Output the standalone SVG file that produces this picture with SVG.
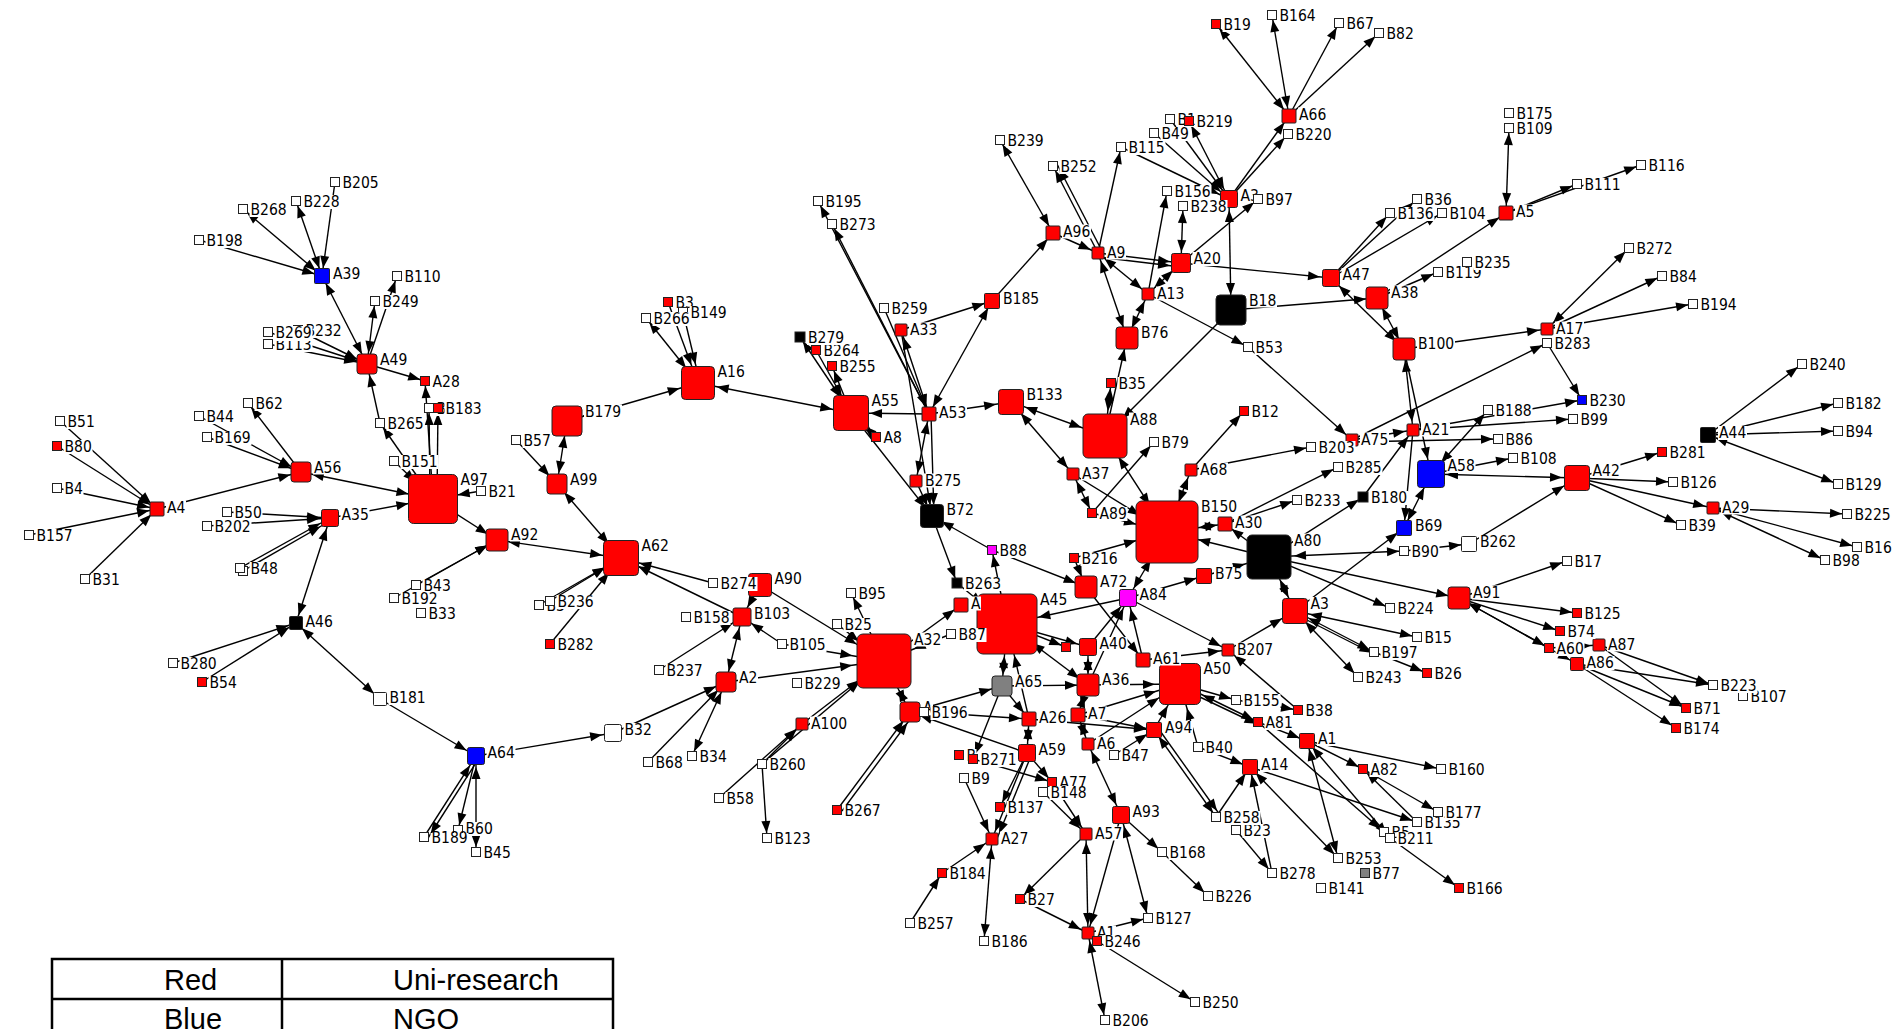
<svg xmlns="http://www.w3.org/2000/svg" width="1899" height="1029" viewBox="0 0 1899 1029">
<style>
.e path{fill:none;stroke:#000;stroke-width:1.4}
.R,.W,.K,.U,.M,.G{stroke:#222;stroke-width:1}
.R{fill:#f00}.W{fill:#fff}.K{fill:#000}.U{fill:#00f}.M{fill:#f0f}.G{fill:#808080}
.lb{fill:#fff}
text.t{font-family:'DejaVu Sans Condensed','DejaVu Sans',sans-serif;font-stretch:condensed;font-size:15.5px;fill:#000}
.lg{font-family:'Liberation Sans',Arial,sans-serif;font-size:29px;fill:#000}
.ta{marker-end:url(#ma)}.tb{marker-end:url(#mb)}.tc{marker-end:url(#mc)}.td{marker-end:url(#md)}.te{marker-end:url(#me)}.tf{marker-end:url(#mf)}.tg{marker-end:url(#mg)}
.sa{marker-start:url(#ma)}.sb{marker-start:url(#mb)}.sc{marker-start:url(#mc)}.sd{marker-start:url(#md)}.se{marker-start:url(#me)}.sf{marker-start:url(#mf)}.sg{marker-start:url(#mg)}
</style>
<defs>
<path id="ah" d="M0,0L-12,-4.5L-12,4.5Z"/>
<marker id="ma" markerUnits="userSpaceOnUse" refX="5" refY="0" orient="auto-start-reverse" overflow="visible"><use href="#ah"/></marker>
<marker id="mb" markerUnits="userSpaceOnUse" refX="8" refY="0" orient="auto-start-reverse" overflow="visible"><use href="#ah"/></marker>
<marker id="mc" markerUnits="userSpaceOnUse" refX="11" refY="0" orient="auto-start-reverse" overflow="visible"><use href="#ah"/></marker>
<marker id="md" markerUnits="userSpaceOnUse" refX="15" refY="0" orient="auto-start-reverse" overflow="visible"><use href="#ah"/></marker>
<marker id="me" markerUnits="userSpaceOnUse" refX="19" refY="0" orient="auto-start-reverse" overflow="visible"><use href="#ah"/></marker>
<marker id="mf" markerUnits="userSpaceOnUse" refX="25" refY="0" orient="auto-start-reverse" overflow="visible"><use href="#ah"/></marker>
<marker id="mg" markerUnits="userSpaceOnUse" refX="32" refY="0" orient="auto-start-reverse" overflow="visible"><use href="#ah"/></marker>
</defs>
<rect width="1899" height="1029" fill="#fff"/>

<g id="connectors" class="e">
<path d="M199 240L322 276" class="tb"/>
<path d="M322 276L243 209" class="ta sb"/>
<path d="M322 276L296 201" class="ta sb"/>
<path d="M335 182L322 276" class="tb"/>
<path d="M322 276L367 364" class="tc sb"/>
<path d="M367 364L397 276" class="ta"/>
<path d="M367 364L375 301" class="ta sc"/>
<path d="M268 332L367 364" class="tc"/>
<path d="M298 330L367 364" class="tc"/>
<path d="M268 344L367 364" class="tc"/>
<path d="M367 364L425 381" class="ta"/>
<path d="M380 423L367 364" class="tc"/>
<path d="M433 499L380 423" class="ta"/>
<path d="M433 499L425 381" class="ta"/>
<path d="M437 499L438 408" class="ta"/>
<path d="M430 499L429 408" class="ta"/>
<path d="M394 461L433 499" class="tf"/>
<path d="M301 472L433 499" class="tf sc"/>
<path d="M330 518L433 499" class="tf"/>
<path d="M481 491L433 499" class="tf"/>
<path d="M433 499L497 540" class="tc"/>
<path d="M416 585L497 540" class="tc"/>
<path d="M394 598L497 540" class="tc"/>
<path d="M516 440L557 484" class="tc"/>
<path d="M567 421L557 484" class="tc sd"/>
<path d="M567 421L698 383" class="te sd"/>
<path d="M557 484L621 558" class="te sc"/>
<path d="M497 540L621 558" class="te sc"/>
<path d="M550 601L621 558" class="te"/>
<path d="M539 605L621 558" class="te"/>
<path d="M550 644L621 558" class="te"/>
<path d="M713 583L621 558" class="te"/>
<path d="M742 617L621 558" class="te"/>
<path d="M760 585L742 617" class="tc"/>
<path d="M659 670L742 617" class="tc"/>
<path d="M782 644L742 617" class="tc"/>
<path d="M742 617L726 682" class="tc sc"/>
<path d="M760 585L884 661" class="tg"/>
<path d="M837 624L884 661" class="tg"/>
<path d="M884 661L851 593" class="ta"/>
<path d="M782 644L884 661" class="tg"/>
<path d="M726 682L884 661" class="tg"/>
<path d="M802 724L884 661" class="tg"/>
<path d="M762 764L884 661" class="tg"/>
<path d="M762 764L802 724" class="tb"/>
<path d="M719 798L802 724" class="tb"/>
<path d="M762 764L767 838" class="ta"/>
<path d="M476 756L613 733" class="tc"/>
<path d="M613 733L726 682" class="tc"/>
<path d="M648 762L726 682" class="tc"/>
<path d="M726 682L692 756" class="ta sc"/>
<path d="M380 699L476 756" class="tc"/>
<path d="M296 623L380 699" class="tb sb"/>
<path d="M330 518L296 623" class="tb sc"/>
<path d="M173 663L296 623" class="tb"/>
<path d="M202 682L296 623" class="tb"/>
<path d="M227 512L330 518" class="tc"/>
<path d="M207 526L330 518" class="tc"/>
<path d="M240 568L330 518" class="tc"/>
<path d="M243 571L330 521" class="tc"/>
<path d="M424 837L476 756" class="tc"/>
<path d="M479 758L428 838" class="ta"/>
<path d="M476 756L458 830" class="ta"/>
<path d="M476 756L476 852" class="ta sc"/>
<path d="M57 446L157 509" class="tb"/>
<path d="M60 421L157 509" class="tb"/>
<path d="M57 488L157 509" class="tb"/>
<path d="M29 535L157 509" class="tb"/>
<path d="M85 579L157 509" class="tb"/>
<path d="M157 509L301 472" class="tc"/>
<path d="M199 416L301 472" class="tc"/>
<path d="M207 437L301 472" class="tc"/>
<path d="M301 472L248 403" class="ta"/>
<path d="M698 383L646 318" class="ta se"/>
<path d="M668 302L698 383" class="te"/>
<path d="M683 312L700 383" class="te"/>
<path d="M698 383L851 413" class="te se"/>
<path d="M800 337L851 413" class="te sa"/>
<path d="M816 350L851 413" class="te"/>
<path d="M851 413L832 366" class="ta"/>
<path d="M929 414L851 413" class="te"/>
<path d="M851 413L876 437" class="ta se"/>
<path d="M851 413L932 516" class="tc"/>
<path d="M884 308L929 414" class="tb"/>
<path d="M901 330L929 414" class="tb sb"/>
<path d="M929 414L818 201" class="ta"/>
<path d="M929 414L832 224" class="ta"/>
<path d="M992 301L929 414" class="tb sb"/>
<path d="M901 330L992 301" class="tb"/>
<path d="M929 414L1011 402" class="td"/>
<path d="M929 414L916 481" class="tb sb"/>
<path d="M916 481L932 516" class="tc"/>
<path d="M931 414L934 516" class="tc"/>
<path d="M901 330L932 516" class="tc"/>
<path d="M992 550L932 516" class="tc"/>
<path d="M932 516L957 583" class="ta"/>
<path d="M992 550L1086 587" class="tc"/>
<path d="M1007 624L992 550" class="ta"/>
<path d="M1011 402L1105 436" class="tf sd"/>
<path d="M1011 402L1073 474" class="tb sd"/>
<path d="M1073 474L1092 513" class="ta sb"/>
<path d="M1073 474L1167 532" class="tg"/>
<path d="M1092 513L1154 442" class="ta"/>
<path d="M1092 513L1167 532" class="tg"/>
<path d="M1111 383L1105 436" class="tf sa"/>
<path d="M1105 436L1127 338" class="tc"/>
<path d="M1167 532L1105 436" class="tf sg"/>
<path d="M1191 470L1167 532" class="tg sb"/>
<path d="M1191 470L1244 411" class="ta"/>
<path d="M1191 470L1311 447" class="ta"/>
<path d="M1225 524L1167 532" class="tg sb"/>
<path d="M1269 557L1167 532" class="tg"/>
<path d="M1074 558L1167 532" class="tg"/>
<path d="M1074 558L1086 587" class="tc"/>
<path d="M1128 598L1167 532" class="tg sc"/>
<path d="M1128 598L1007 624" class="tg"/>
<path d="M1128 598L1204 576" class="tb"/>
<path d="M1128 598L1228 650" class="tb"/>
<path d="M1086 587L1143 660" class="tb"/>
<path d="M1088 647L1128 598" class="tc"/>
<path d="M1088 685L1128 598" class="tc"/>
<path d="M1143 660L1128 598" class="tc"/>
<path d="M1204 576L1269 557" class="tf"/>
<path d="M1225 524L1338 467" class="ta"/>
<path d="M1225 524L1297 500" class="ta"/>
<path d="M1269 557L1225 524" class="tb"/>
<path d="M1269 557L1295 611" class="td sf"/>
<path d="M1269 557L1390 608" class="ta"/>
<path d="M1269 557L1459 598" class="tc"/>
<path d="M1269 557L1404 551" class="ta sf"/>
<path d="M1269 557L1363 497" class="ta"/>
<path d="M1295 611L1404 528" class="tb"/>
<path d="M1404 551L1469 544" class="tb"/>
<path d="M1469 544L1577 478" class="td"/>
<path d="M1228 650L1295 611" class="td"/>
<path d="M1295 611L1417 637" class="ta sd"/>
<path d="M1295 611L1374 652" class="ta sd"/>
<path d="M1297 615L1376 655" class="ta"/>
<path d="M1295 611L1358 677" class="ta sd"/>
<path d="M1374 652L1427 673" class="ta"/>
<path d="M1459 598L1567 561" class="ta"/>
<path d="M1459 598L1577 613" class="ta"/>
<path d="M1459 598L1560 631" class="ta"/>
<path d="M1459 598L1549 648" class="ta sc"/>
<path d="M1459 598L1577 664" class="tb sc"/>
<path d="M1549 648L1599 645" class="tb"/>
<path d="M1577 664L1713 685" class="ta"/>
<path d="M1599 645L1713 685" class="ta"/>
<path d="M1577 664L1686 708" class="ta"/>
<path d="M1599 645L1686 708" class="ta"/>
<path d="M1577 664L1676 728" class="ta"/>
<path d="M1404 349L1547 329" class="tb"/>
<path d="M1413 430L1404 349" class="tc sb"/>
<path d="M1404 349L1431 474" class="td"/>
<path d="M1363 497L1413 430" class="tb"/>
<path d="M1413 430L1404 528" class="tb"/>
<path d="M1413 430L1582 400" class="ta"/>
<path d="M1413 430L1573 419" class="ta"/>
<path d="M1352 440L1413 430" class="tb"/>
<path d="M1352 442L1498 439" class="ta"/>
<path d="M1352 440L1547 343" class="ta"/>
<path d="M1547 343L1582 400" class="ta"/>
<path d="M1431 474L1488 410" class="ta sd"/>
<path d="M1431 474L1513 458" class="ta"/>
<path d="M1431 474L1577 478" class="td sd"/>
<path d="M1431 474L1404 528" class="tb sd"/>
<path d="M1248 347L1352 440" class="tb"/>
<path d="M1148 294L1248 347" class="ta"/>
<path d="M1577 478L1662 452" class="ta"/>
<path d="M1577 478L1673 482" class="ta"/>
<path d="M1577 478L1713 508" class="tb"/>
<path d="M1577 478L1681 525" class="ta"/>
<path d="M1708 435L1802 364" class="ta"/>
<path d="M1708 435L1838 403" class="ta"/>
<path d="M1708 435L1838 431" class="ta"/>
<path d="M1708 435L1838 484" class="ta sb"/>
<path d="M1713 508L1847 514" class="ta"/>
<path d="M1713 508L1857 547" class="ta"/>
<path d="M1713 508L1825 560" class="ta sb"/>
<path d="M1547 329L1629 248" class="ta sb"/>
<path d="M1547 329L1662 276" class="ta"/>
<path d="M1547 329L1693 304" class="ta"/>
<path d="M1506 213L1509 128" class="ta sb"/>
<path d="M1506 213L1577 184" class="ta"/>
<path d="M1506 213L1641 165" class="ta"/>
<path d="M1377 298L1506 213" class="tb"/>
<path d="M1377 298L1438 272" class="ta"/>
<path d="M1331 278L1390 213" class="ta"/>
<path d="M1331 278L1417 199" class="ta"/>
<path d="M1331 278L1442 213" class="ta"/>
<path d="M1331 278L1404 349" class="tc sc"/>
<path d="M1377 298L1404 349" class="tc sc"/>
<path d="M1231 310L1377 298" class="tc"/>
<path d="M1181 263L1331 278" class="tc"/>
<path d="M1000 140L1053 233" class="tb sa"/>
<path d="M1098 253L1053 166" class="ta"/>
<path d="M1102 251L1057 164" class="ta"/>
<path d="M992 301L1053 233" class="tb"/>
<path d="M1053 233L1098 253" class="tb"/>
<path d="M1098 253L1121 147" class="ta"/>
<path d="M1098 253L1181 263" class="tc"/>
<path d="M1098 257L1181 267" class="tc"/>
<path d="M1098 253L1148 294" class="tb sb"/>
<path d="M1098 253L1127 338" class="tc sb"/>
<path d="M1148 294L1127 338" class="tc sb"/>
<path d="M1148 294L1167 191" class="ta"/>
<path d="M1181 263L1148 294" class="tb sc"/>
<path d="M1181 263L1183 206" class="ta sc"/>
<path d="M1181 263L1258 199" class="ta"/>
<path d="M1121 147L1229 199" class="tc"/>
<path d="M1154 133L1229 199" class="tc"/>
<path d="M1170 119L1229 199" class="tc"/>
<path d="M1229 199L1189 121" class="ta sc"/>
<path d="M1229 199L1289 116" class="tb"/>
<path d="M1229 199L1288 134" class="ta"/>
<path d="M1216 24L1289 116" class="tb sa"/>
<path d="M1272 15L1289 116" class="tb sa"/>
<path d="M1289 116L1339 23" class="ta"/>
<path d="M1289 116L1379 33" class="ta"/>
<path d="M1229 199L1231 310" class="td sc"/>
<path d="M1231 310L1105 436" class="tf"/>
<path d="M1007 624L1002 686" class="tc sg"/>
<path d="M1007 624L1088 685" class="tc sg"/>
<path d="M1007 624L1088 647" class="tc"/>
<path d="M957 583L1007 624" class="tg"/>
<path d="M951 634L884 661" class="tg"/>
<path d="M884 661L961 605" class="tb"/>
<path d="M1029 719L1007 624" class="tg"/>
<path d="M910 712L1002 686" class="tc"/>
<path d="M924 712L1029 719" class="tb"/>
<path d="M1027 753L910 712" class="tc"/>
<path d="M837 810L910 712" class="tc"/>
<path d="M842 811L914 714" class="tc"/>
<path d="M910 712L884 661" class="tg sc"/>
<path d="M1002 686L1088 685" class="tc"/>
<path d="M1002 686L973 759" class="ta"/>
<path d="M1002 686L1029 719" class="tb"/>
<path d="M1088 685L1180 684" class="tf"/>
<path d="M1088 647L1088 685" class="tc sc"/>
<path d="M1088 685L1078 715" class="tb sc"/>
<path d="M1078 715L1180 684" class="tf"/>
<path d="M1078 715L1154 730" class="tb"/>
<path d="M1088 744L1180 684" class="tf"/>
<path d="M1029 719L1154 730" class="tb"/>
<path d="M1154 730L1180 684" class="tf"/>
<path d="M1198 747L1180 684" class="tf"/>
<path d="M1180 684L1258 722" class="ta sf"/>
<path d="M1183 689L1261 726" class="ta"/>
<path d="M1180 684L1236 700" class="ta"/>
<path d="M1236 700L1298 710" class="ta"/>
<path d="M1258 722L1307 741" class="tb"/>
<path d="M1307 741L1363 769" class="ta"/>
<path d="M1307 741L1441 769" class="ta"/>
<path d="M1363 769L1438 812" class="ta sa"/>
<path d="M1417 822L1363 769" class="ta"/>
<path d="M1307 741L1390 838" class="ta sb"/>
<path d="M1307 741L1338 858" class="ta sb"/>
<path d="M1258 722L1384 832" class="ta"/>
<path d="M1390 838L1459 888" class="ta"/>
<path d="M1250 767L1338 858" class="ta sb"/>
<path d="M1272 873L1250 767" class="tb"/>
<path d="M1236 830L1272 873" class="ta"/>
<path d="M1216 817L1250 767" class="tb"/>
<path d="M1250 767L1417 822" class="ta"/>
<path d="M1198 747L1250 767" class="tb"/>
<path d="M1154 730L1216 817" class="ta sb"/>
<path d="M1158 728L1220 815" class="ta"/>
<path d="M1114 755L1154 730" class="tb"/>
<path d="M1088 744L1121 815" class="tc sb"/>
<path d="M1121 815L1162 852" class="ta"/>
<path d="M1121 815L1148 918" class="ta sc"/>
<path d="M1162 852L1208 896" class="ta"/>
<path d="M1043 792L1086 834" class="tb"/>
<path d="M1052 782L1086 834" class="tb"/>
<path d="M1086 834L1088 933" class="tb sb"/>
<path d="M1086 834L1020 899" class="ta"/>
<path d="M1121 815L1088 933" class="tb"/>
<path d="M1020 899L1088 933" class="tb"/>
<path d="M1088 933L1148 918" class="ta"/>
<path d="M1088 933L1105 1020" class="ta sb"/>
<path d="M1097 941L1195 1002" class="ta"/>
<path d="M992 839L984 941" class="ta sb"/>
<path d="M942 873L992 839" class="tb"/>
<path d="M910 923L942 873" class="ta"/>
<path d="M964 778L992 839" class="tb"/>
<path d="M1027 753L992 839" class="tb"/>
<path d="M1031 756L996 841" class="tb"/>
<path d="M1027 753L1000 807" class="ta"/>
<path d="M1027 753L1029 719" class="tb sc"/>
<path d="M1027 753L1052 782" class="ta"/>
<path d="M973 759L1052 782" class="ta"/>
<path d="M1088 744L1078 715" class="tb sb"/>
<path d="M1143 660L1228 650" class="tb"/>
<path d="M1298 710L1228 650" class="tb"/>
<path d="M1007 624L1066 647" class="ta"/>
</g>

<g id="nodes">
<g id="B150"><rect class="R" x="1136" y="501" width="62" height="62" rx="6"/><rect class="lb" x="1200" y="499.5" width="38" height="14"/><text class="t" x="1201" y="511.5">B150</text></g>
<g id="A45"><rect class="R" x="977" y="594" width="60" height="60" rx="6"/><rect class="lb" x="1039" y="592.5" width="29" height="14"/><text class="t" x="1040" y="604.5">A45</text></g>
<g id="A32"><rect class="R" x="857" y="634" width="54" height="54" rx="6"/><rect class="lb" x="913" y="632.5" width="29" height="14"/><text class="t" x="914" y="644.5">A32</text></g>
<g id="A97"><rect class="R" x="408.5" y="474.5" width="49" height="49" rx="5"/><rect class="lb" x="459.5" y="473" width="29" height="14"/><text class="t" x="460.5" y="485">A97</text></g>
<g id="A88"><rect class="R" x="1083" y="414" width="44" height="44" rx="5"/><rect class="lb" x="1129" y="412.5" width="29" height="14"/><text class="t" x="1130" y="424.5">A88</text></g>
<g id="A80"><rect class="K" x="1247" y="535" width="44" height="44" rx="5"/><rect class="lb" x="1293" y="533.5" width="29" height="14"/><text class="t" x="1294" y="545.5">A80</text></g>
<g id="A50"><rect class="R" x="1159.5" y="663.5" width="41" height="41" rx="5"/><rect class="lb" x="1202.5" y="662" width="29" height="14"/><text class="t" x="1203.5" y="674">A50</text></g>
<g id="A62"><rect class="R" x="603.5" y="540.5" width="35" height="35" rx="4"/><rect class="lb" x="640.5" y="539" width="29" height="14"/><text class="t" x="641.5" y="551">A62</text></g>
<g id="A55"><rect class="R" x="833.5" y="395.5" width="35" height="35" rx="4"/><rect class="lb" x="870.5" y="394" width="29" height="14"/><text class="t" x="871.5" y="406">A55</text></g>
<g id="A16"><rect class="R" x="681.5" y="366.5" width="33" height="33" rx="4"/><rect class="lb" x="716.5" y="365" width="29" height="14"/><text class="t" x="717.5" y="377">A16</text></g>
<g id="B179"><rect class="R" x="552" y="406" width="30" height="30" rx="4"/><rect class="lb" x="584" y="404.5" width="38" height="14"/><text class="t" x="585" y="416.5">B179</text></g>
<g id="B18"><rect class="K" x="1216" y="295" width="30" height="30" rx="4"/><rect class="lb" x="1248" y="293.5" width="29" height="14"/><text class="t" x="1249" y="305.5">B18</text></g>
<g id="A58"><rect class="U" x="1417.5" y="460.5" width="27" height="27" rx="3"/><rect class="lb" x="1446.5" y="459" width="29" height="14"/><text class="t" x="1447.5" y="471">A58</text></g>
<g id="A3"><rect class="R" x="1282.5" y="598.5" width="25" height="25" rx="3"/><rect class="lb" x="1309.5" y="597" width="20" height="14"/><text class="t" x="1310.5" y="609">A3</text></g>
<g id="A42"><rect class="R" x="1564.5" y="465.5" width="25" height="25" rx="3"/><rect class="lb" x="1591.5" y="464" width="29" height="14"/><text class="t" x="1592.5" y="476">A42</text></g>
<g id="B133"><rect class="R" x="998.5" y="389.5" width="25" height="25" rx="3"/><rect class="lb" x="1025.5" y="388" width="38" height="14"/><text class="t" x="1026.5" y="400">B133</text></g>
<g id="A90"><rect class="R" x="748.5" y="573.5" width="23" height="23" rx="3"/><rect class="lb" x="773.5" y="572" width="29" height="14"/><text class="t" x="774.5" y="584">A90</text></g>
<g id="B72"><rect class="K" x="920.5" y="504.5" width="23" height="23" rx="3"/><rect class="lb" x="945.5" y="503" width="29" height="14"/><text class="t" x="946.5" y="515">B72</text></g>
<g id="A92"><rect class="R" x="486" y="529" width="22" height="22" rx="3"/><rect class="lb" x="510" y="527.5" width="29" height="14"/><text class="t" x="511" y="539.5">A92</text></g>
<g id="A72"><rect class="R" x="1075" y="576" width="22" height="22" rx="3"/><rect class="lb" x="1099" y="574.5" width="29" height="14"/><text class="t" x="1100" y="586.5">A72</text></g>
<g id="A36"><rect class="R" x="1077" y="674" width="22" height="22" rx="3"/><rect class="lb" x="1101" y="672.5" width="29" height="14"/><text class="t" x="1102" y="684.5">A36</text></g>
<g id="A91"><rect class="R" x="1448" y="587" width="22" height="22" rx="3"/><rect class="lb" x="1472" y="585.5" width="29" height="14"/><text class="t" x="1473" y="597.5">A91</text></g>
<g id="B76"><rect class="R" x="1116" y="327" width="22" height="22" rx="3"/><rect class="lb" x="1140" y="325.5" width="29" height="14"/><text class="t" x="1141" y="337.5">B76</text></g>
<g id="A38"><rect class="R" x="1366" y="287" width="22" height="22" rx="3"/><rect class="lb" x="1390" y="285.5" width="29" height="14"/><text class="t" x="1391" y="297.5">A38</text></g>
<g id="B100"><rect class="R" x="1393" y="338" width="22" height="22" rx="3"/><rect class="lb" x="1417" y="336.5" width="38" height="14"/><text class="t" x="1418" y="348.5">B100</text></g>
<g id="A49"><rect class="R" x="357" y="354" width="20" height="20" rx="3"/><rect class="lb" x="379" y="352.5" width="29" height="14"/><text class="t" x="380" y="364.5">A49</text></g>
<g id="A56"><rect class="R" x="291" y="462" width="20" height="20" rx="3"/><rect class="lb" x="313" y="460.5" width="29" height="14"/><text class="t" x="314" y="472.5">A56</text></g>
<g id="A99"><rect class="R" x="547" y="474" width="20" height="20" rx="3"/><rect class="lb" x="569" y="472.5" width="29" height="14"/><text class="t" x="570" y="484.5">A99</text></g>
<g id="A2"><rect class="R" x="716" y="672" width="20" height="20" rx="3"/><rect class="lb" x="738" y="670.5" width="20" height="14"/><text class="t" x="739" y="682.5">A2</text></g>
<g id="A-x1"><rect class="R" x="900" y="702" width="20" height="20" rx="3"/><rect class="lb" x="922" y="700.5" width="11" height="14"/><text class="t" x="923" y="712.5">A</text></g>
<g id="A65"><rect class="G" x="992" y="676" width="20" height="20" rx="3"/><rect class="lb" x="1014" y="674.5" width="29" height="14"/><text class="t" x="1015" y="686.5">A65</text></g>
<g id="A20"><rect class="R" x="1171.5" y="253.5" width="19" height="19" rx="2"/><rect class="lb" x="1192.5" y="252" width="29" height="14"/><text class="t" x="1193.5" y="264">A20</text></g>
<g id="B103"><rect class="R" x="733" y="608" width="18" height="18" rx="2"/><rect class="lb" x="753" y="606.5" width="38" height="14"/><text class="t" x="754" y="618.5">B103</text></g>
<g id="A35"><rect class="R" x="321.5" y="509.5" width="17" height="17" rx="2"/><rect class="lb" x="340.5" y="508" width="29" height="14"/><text class="t" x="341.5" y="520">A35</text></g>
<g id="A64"><rect class="U" x="467.5" y="747.5" width="17" height="17" rx="2"/><rect class="lb" x="486.5" y="746" width="29" height="14"/><text class="t" x="487.5" y="758">A64</text></g>
<g id="B32"><rect class="W" x="604.5" y="724.5" width="17" height="17" rx="2"/><rect class="lb" x="623.5" y="723" width="29" height="14"/><text class="t" x="624.5" y="735">B32</text></g>
<g id="A3-x"><rect class="R" x="1220.5" y="190.5" width="17" height="17" rx="2"/><rect class="lb" x="1239.5" y="189" width="20" height="14"/><text class="t" x="1240.5" y="201">A3</text></g>
<g id="A47"><rect class="R" x="1322.5" y="269.5" width="17" height="17" rx="2"/><rect class="lb" x="1341.5" y="268" width="29" height="14"/><text class="t" x="1342.5" y="280">A47</text></g>
<g id="A84"><rect class="M" x="1119.5" y="589.5" width="17" height="17" rx="2"/><rect class="lb" x="1138.5" y="588" width="29" height="14"/><text class="t" x="1139.5" y="600">A84</text></g>
<g id="A40"><rect class="R" x="1079.5" y="638.5" width="17" height="17" rx="2"/><rect class="lb" x="1098.5" y="637" width="29" height="14"/><text class="t" x="1099.5" y="649">A40</text></g>
<g id="A59"><rect class="R" x="1018.5" y="744.5" width="17" height="17" rx="2"/><rect class="lb" x="1037.5" y="743" width="29" height="14"/><text class="t" x="1038.5" y="755">A59</text></g>
<g id="A93"><rect class="R" x="1112.5" y="806.5" width="17" height="17" rx="2"/><rect class="lb" x="1131.5" y="805" width="29" height="14"/><text class="t" x="1132.5" y="817">A93</text></g>
<g id="A39"><rect class="U" x="314.5" y="268.5" width="15" height="15" rx="1"/><rect class="lb" x="332" y="267" width="29" height="14"/><text class="t" x="333" y="279">A39</text></g>
<g id="B185"><rect class="R" x="984.5" y="293.5" width="15" height="15" rx="1"/><rect class="lb" x="1002" y="292" width="38" height="14"/><text class="t" x="1003" y="304">B185</text></g>
<g id="B69"><rect class="U" x="1396.5" y="520.5" width="15" height="15" rx="1"/><rect class="lb" x="1414" y="519" width="29" height="14"/><text class="t" x="1415" y="531">B69</text></g>
<g id="B262"><rect class="W" x="1461.5" y="536.5" width="15" height="15" rx="1"/><rect class="lb" x="1479" y="535" width="38" height="14"/><text class="t" x="1480" y="547">B262</text></g>
<g id="A44"><rect class="K" x="1700.5" y="427.5" width="15" height="15" rx="1"/><rect class="lb" x="1718" y="426" width="29" height="14"/><text class="t" x="1719" y="438">A44</text></g>
<g id="B75"><rect class="R" x="1196.5" y="568.5" width="15" height="15" rx="1"/><rect class="lb" x="1214" y="567" width="29" height="14"/><text class="t" x="1215" y="579">B75</text></g>
<g id="A94"><rect class="R" x="1146.5" y="722.5" width="15" height="15" rx="1"/><rect class="lb" x="1164" y="721" width="29" height="14"/><text class="t" x="1165" y="733">A94</text></g>
<g id="A1"><rect class="R" x="1299.5" y="733.5" width="15" height="15" rx="1"/><rect class="lb" x="1317" y="732" width="20" height="14"/><text class="t" x="1318" y="744">A1</text></g>
<g id="A14"><rect class="R" x="1242.5" y="759.5" width="15" height="15" rx="1"/><rect class="lb" x="1260" y="758" width="29" height="14"/><text class="t" x="1261" y="770">A14</text></g>
<g id="A4"><rect class="R" x="150" y="502" width="14" height="14" rx="1"/><rect class="lb" x="166" y="500.5" width="20" height="14"/><text class="t" x="167" y="512.5">A4</text></g>
<g id="A53"><rect class="R" x="922" y="407" width="14" height="14" rx="1"/><rect class="lb" x="938" y="405.5" width="29" height="14"/><text class="t" x="939" y="417.5">A53</text></g>
<g id="A96"><rect class="R" x="1046" y="226" width="14" height="14" rx="1"/><rect class="lb" x="1062" y="224.5" width="29" height="14"/><text class="t" x="1063" y="236.5">A96</text></g>
<g id="A66"><rect class="R" x="1282" y="109" width="14" height="14" rx="1"/><rect class="lb" x="1298" y="107.5" width="29" height="14"/><text class="t" x="1299" y="119.5">A66</text></g>
<g id="A5"><rect class="R" x="1499" y="206" width="14" height="14" rx="1"/><rect class="lb" x="1515" y="204.5" width="20" height="14"/><text class="t" x="1516" y="216.5">A5</text></g>
<g id="A30"><rect class="R" x="1218" y="517" width="14" height="14" rx="1"/><rect class="lb" x="1234" y="515.5" width="29" height="14"/><text class="t" x="1235" y="527.5">A30</text></g>
<g id="A-x2"><rect class="R" x="954" y="598" width="14" height="14" rx="1"/><rect class="lb" x="970" y="596.5" width="11" height="14"/><text class="t" x="971" y="608.5">A</text></g>
<g id="A61"><rect class="R" x="1136" y="653" width="14" height="14" rx="1"/><rect class="lb" x="1152" y="651.5" width="29" height="14"/><text class="t" x="1153" y="663.5">A61</text></g>
<g id="A26"><rect class="R" x="1022" y="712" width="14" height="14" rx="1"/><rect class="lb" x="1038" y="710.5" width="29" height="14"/><text class="t" x="1039" y="722.5">A26</text></g>
<g id="A7"><rect class="R" x="1071" y="708" width="14" height="14" rx="1"/><rect class="lb" x="1087" y="706.5" width="20" height="14"/><text class="t" x="1088" y="718.5">A7</text></g>
<g id="A46"><rect class="K" x="289.5" y="616.5" width="13" height="13" rx="1"/><rect class="lb" x="304.5" y="615" width="29" height="14"/><text class="t" x="305.5" y="627">A46</text></g>
<g id="B181"><rect class="W" x="373.5" y="692.5" width="13" height="13" rx="1"/><rect class="lb" x="388.5" y="691" width="38" height="14"/><text class="t" x="389.5" y="703">B181</text></g>
<g id="A86"><rect class="R" x="1570.5" y="657.5" width="13" height="13" rx="1"/><rect class="lb" x="1585.5" y="656" width="29" height="14"/><text class="t" x="1586.5" y="668">A86</text></g>
<g id="A33"><rect class="R" x="895" y="324" width="12" height="12" rx="1"/><rect class="lb" x="909" y="322.5" width="29" height="14"/><text class="t" x="910" y="334.5">A33</text></g>
<g id="A9"><rect class="R" x="1092" y="247" width="12" height="12" rx="1"/><rect class="lb" x="1106" y="245.5" width="20" height="14"/><text class="t" x="1107" y="257.5">A9</text></g>
<g id="A13"><rect class="R" x="1142" y="288" width="12" height="12" rx="1"/><rect class="lb" x="1156" y="286.5" width="29" height="14"/><text class="t" x="1157" y="298.5">A13</text></g>
<g id="A17"><rect class="R" x="1541" y="323" width="12" height="12" rx="1"/><rect class="lb" x="1555" y="321.5" width="29" height="14"/><text class="t" x="1556" y="333.5">A17</text></g>
<g id="A21"><rect class="R" x="1407" y="424" width="12" height="12" rx="1"/><rect class="lb" x="1421" y="422.5" width="29" height="14"/><text class="t" x="1422" y="434.5">A21</text></g>
<g id="A75"><rect class="R" x="1346" y="434" width="12" height="12" rx="1"/><rect class="lb" x="1360" y="432.5" width="29" height="14"/><text class="t" x="1361" y="444.5">A75</text></g>
<g id="A29"><rect class="R" x="1707" y="502" width="12" height="12" rx="1"/><rect class="lb" x="1721" y="500.5" width="29" height="14"/><text class="t" x="1722" y="512.5">A29</text></g>
<g id="A87"><rect class="R" x="1593" y="639" width="12" height="12" rx="1"/><rect class="lb" x="1607" y="637.5" width="29" height="14"/><text class="t" x="1608" y="649.5">A87</text></g>
<g id="B275"><rect class="R" x="910" y="475" width="12" height="12" rx="1"/><rect class="lb" x="924" y="473.5" width="38" height="14"/><text class="t" x="925" y="485.5">B275</text></g>
<g id="A37"><rect class="R" x="1067" y="468" width="12" height="12" rx="1"/><rect class="lb" x="1081" y="466.5" width="29" height="14"/><text class="t" x="1082" y="478.5">A37</text></g>
<g id="A68"><rect class="R" x="1185" y="464" width="12" height="12" rx="1"/><rect class="lb" x="1199" y="462.5" width="29" height="14"/><text class="t" x="1200" y="474.5">A68</text></g>
<g id="B207"><rect class="R" x="1222" y="644" width="12" height="12" rx="1"/><rect class="lb" x="1236" y="642.5" width="38" height="14"/><text class="t" x="1237" y="654.5">B207</text></g>
<g id="A6"><rect class="R" x="1082" y="738" width="12" height="12" rx="1"/><rect class="lb" x="1096" y="736.5" width="20" height="14"/><text class="t" x="1097" y="748.5">A6</text></g>
<g id="A27"><rect class="R" x="986" y="833" width="12" height="12" rx="1"/><rect class="lb" x="1000" y="831.5" width="29" height="14"/><text class="t" x="1001" y="843.5">A27</text></g>
<g id="A57"><rect class="R" x="1080" y="828" width="12" height="12" rx="1"/><rect class="lb" x="1094" y="826.5" width="29" height="14"/><text class="t" x="1095" y="838.5">A57</text></g>
<g id="A1-x"><rect class="R" x="1082" y="927" width="12" height="12" rx="1"/><rect class="lb" x="1096" y="925.5" width="20" height="14"/><text class="t" x="1097" y="937.5">A1</text></g>
<g id="A100"><rect class="R" x="796" y="718" width="12" height="12" rx="1"/><rect class="lb" x="810" y="716.5" width="38" height="14"/><text class="t" x="811" y="728.5">A100</text></g>

<g id="B205"><rect class="W" x="330.5" y="177.5" width="9" height="9"/><rect class="lb" x="341.5" y="176" width="38" height="14"/><text class="t" x="342.5" y="188">B205</text></g>
<g id="B228"><rect class="W" x="291.5" y="196.5" width="9" height="9"/><rect class="lb" x="302.5" y="195" width="38" height="14"/><text class="t" x="303.5" y="207">B228</text></g>
<g id="B268"><rect class="W" x="238.5" y="204.5" width="9" height="9"/><rect class="lb" x="249.5" y="203" width="38" height="14"/><text class="t" x="250.5" y="215">B268</text></g>
<g id="B198"><rect class="W" x="194.5" y="235.5" width="9" height="9"/><rect class="lb" x="205.5" y="234" width="38" height="14"/><text class="t" x="206.5" y="246">B198</text></g>
<g id="B110"><rect class="W" x="392.5" y="271.5" width="9" height="9"/><rect class="lb" x="403.5" y="270" width="38" height="14"/><text class="t" x="404.5" y="282">B110</text></g>
<g id="B249"><rect class="W" x="370.5" y="296.5" width="9" height="9"/><rect class="lb" x="381.5" y="295" width="38" height="14"/><text class="t" x="382.5" y="307">B249</text></g>
<g id="B113"><rect class="W" x="263.5" y="339.5" width="9" height="9"/><rect class="lb" x="274.5" y="338" width="38" height="14"/><text class="t" x="275.5" y="350">B113</text></g>
<g id="B232"><rect class="W" x="293.5" y="325.5" width="9" height="9"/><rect class="lb" x="304.5" y="324" width="38" height="14"/><text class="t" x="305.5" y="336">B232</text></g>
<g id="B269"><rect class="W" x="263.5" y="327.5" width="9" height="9"/><rect class="lb" x="274.5" y="326" width="38" height="15"/><text class="t" x="275.5" y="338">B269</text></g>
<g id="A28"><rect class="R" x="420.5" y="376.5" width="9" height="9"/><rect class="lb" x="431.5" y="375" width="29" height="14"/><text class="t" x="432.5" y="387">A28</text></g>
<g id="B8"><rect class="W" x="424.5" y="403.5" width="9" height="9"/><rect class="lb" x="435.5" y="402" width="20" height="14"/><text class="t" x="436.5" y="414">B8</text></g>
<g id="B183"><rect class="R" x="433.5" y="403.5" width="9" height="9"/><rect class="lb" x="444.5" y="402" width="38" height="14"/><text class="t" x="445.5" y="414">B183</text></g>
<g id="B62"><rect class="W" x="243.5" y="398.5" width="9" height="9"/><rect class="lb" x="254.5" y="397" width="29" height="14"/><text class="t" x="255.5" y="409">B62</text></g>
<g id="B44"><rect class="W" x="194.5" y="411.5" width="9" height="9"/><rect class="lb" x="205.5" y="410" width="29" height="14"/><text class="t" x="206.5" y="422">B44</text></g>
<g id="B169"><rect class="W" x="202.5" y="432.5" width="9" height="9"/><rect class="lb" x="213.5" y="431" width="38" height="14"/><text class="t" x="214.5" y="443">B169</text></g>
<g id="B265"><rect class="W" x="375.5" y="418.5" width="9" height="9"/><rect class="lb" x="386.5" y="417" width="38" height="14"/><text class="t" x="387.5" y="429">B265</text></g>
<g id="B51"><rect class="W" x="55.5" y="416.5" width="9" height="9"/><rect class="lb" x="66.5" y="415" width="29" height="14"/><text class="t" x="67.5" y="427">B51</text></g>
<g id="B80"><rect class="R" x="52.5" y="441.5" width="9" height="9"/><rect class="lb" x="63.5" y="440" width="29" height="14"/><text class="t" x="64.5" y="452">B80</text></g>
<g id="B4"><rect class="W" x="52.5" y="483.5" width="9" height="9"/><rect class="lb" x="63.5" y="482" width="20" height="14"/><text class="t" x="64.5" y="494">B4</text></g>
<g id="B157"><rect class="W" x="24.5" y="530.5" width="9" height="9"/><rect class="lb" x="35.5" y="529" width="38" height="14"/><text class="t" x="36.5" y="541">B157</text></g>
<g id="B31"><rect class="W" x="80.5" y="574.5" width="9" height="9"/><rect class="lb" x="91.5" y="573" width="29" height="14"/><text class="t" x="92.5" y="585">B31</text></g>
<g id="B151"><rect class="W" x="389.5" y="456.5" width="9" height="9"/><rect class="lb" x="400.5" y="455" width="38" height="14"/><text class="t" x="401.5" y="467">B151</text></g>
<g id="B50"><rect class="W" x="222.5" y="507.5" width="9" height="9"/><rect class="lb" x="233.5" y="506" width="29" height="14"/><text class="t" x="234.5" y="518">B50</text></g>
<g id="B202"><rect class="W" x="202.5" y="521.5" width="9" height="9"/><rect class="lb" x="213.5" y="520" width="38" height="14"/><text class="t" x="214.5" y="532">B202</text></g>
<g id="B48"><rect class="W" x="238.5" y="566.5" width="9" height="9"/><rect class="W" x="235.5" y="563.5" width="9" height="9"/><rect class="lb" x="249.5" y="562" width="29" height="14"/><text class="t" x="250.5" y="574">B48</text></g>
<g id="B280"><rect class="W" x="168.5" y="658.5" width="9" height="9"/><rect class="lb" x="179.5" y="657" width="38" height="14"/><text class="t" x="180.5" y="669">B280</text></g>
<g id="B54"><rect class="R" x="197.5" y="677.5" width="9" height="9"/><rect class="lb" x="208.5" y="676" width="29" height="14"/><text class="t" x="209.5" y="688">B54</text></g>
<g id="B43"><rect class="W" x="411.5" y="580.5" width="9" height="9"/><rect class="lb" x="422.5" y="579" width="29" height="14"/><text class="t" x="423.5" y="591">B43</text></g>
<g id="B192"><rect class="W" x="389.5" y="593.5" width="9" height="9"/><rect class="lb" x="400.5" y="592" width="38" height="14"/><text class="t" x="401.5" y="604">B192</text></g>
<g id="B33"><rect class="W" x="416.5" y="608.5" width="9" height="9"/><rect class="lb" x="427.5" y="607" width="29" height="14"/><text class="t" x="428.5" y="619">B33</text></g>
<g id="B60"><rect class="W" x="453.5" y="825.5" width="9" height="9"/><rect class="lb" x="464.5" y="822" width="29" height="14"/><text class="t" x="465.5" y="834">B60</text></g>
<g id="B189"><rect class="W" x="419.5" y="832.5" width="9" height="9"/><rect class="lb" x="430.5" y="833" width="38" height="12"/><text class="t" x="431.5" y="843">B189</text></g>
<g id="B45"><rect class="W" x="471.5" y="847.5" width="9" height="9"/><rect class="lb" x="482.5" y="846" width="29" height="14"/><text class="t" x="483.5" y="858">B45</text></g>
<g id="B21"><rect class="W" x="476.5" y="486.5" width="9" height="9"/><rect class="lb" x="487.5" y="485" width="29" height="14"/><text class="t" x="488.5" y="497">B21</text></g>
<g id="B274"><rect class="W" x="708.5" y="578.5" width="9" height="9"/><rect class="lb" x="719.5" y="577" width="38" height="14"/><text class="t" x="720.5" y="589">B274</text></g>
<g id="B158"><rect class="W" x="681.5" y="612.5" width="9" height="9"/><rect class="lb" x="692.5" y="611" width="38" height="14"/><text class="t" x="693.5" y="623">B158</text></g>
<g id="B95"><rect class="W" x="846.5" y="588.5" width="9" height="9"/><rect class="lb" x="857.5" y="587" width="29" height="14"/><text class="t" x="858.5" y="599">B95</text></g>
<g id="B25"><rect class="W" x="832.5" y="619.5" width="9" height="9"/><rect class="lb" x="843.5" y="618" width="29" height="14"/><text class="t" x="844.5" y="630">B25</text></g>
<g id="B3-x"><rect class="W" x="534.5" y="600.5" width="9" height="9"/><rect class="lb" x="545.5" y="599" width="20" height="14"/><text class="t" x="546.5" y="611">B3</text></g>
<g id="B236"><rect class="W" x="545.5" y="596.5" width="9" height="9"/><rect class="lb" x="556.5" y="595" width="38" height="14"/><text class="t" x="557.5" y="607">B236</text></g>
<g id="B282"><rect class="R" x="545.5" y="639.5" width="9" height="9"/><rect class="lb" x="556.5" y="638" width="38" height="14"/><text class="t" x="557.5" y="650">B282</text></g>
<g id="B105"><rect class="W" x="777.5" y="639.5" width="9" height="9"/><rect class="lb" x="788.5" y="638" width="38" height="14"/><text class="t" x="789.5" y="650">B105</text></g>
<g id="B237"><rect class="W" x="654.5" y="665.5" width="9" height="9"/><rect class="lb" x="665.5" y="664" width="38" height="14"/><text class="t" x="666.5" y="676">B237</text></g>
<g id="B229"><rect class="W" x="792.5" y="678.5" width="9" height="9"/><rect class="lb" x="803.5" y="677" width="38" height="14"/><text class="t" x="804.5" y="689">B229</text></g>
<g id="B68"><rect class="W" x="643.5" y="757.5" width="9" height="9"/><rect class="lb" x="654.5" y="756" width="29" height="14"/><text class="t" x="655.5" y="768">B68</text></g>
<g id="B34"><rect class="W" x="687.5" y="751.5" width="9" height="9"/><rect class="lb" x="698.5" y="750" width="29" height="14"/><text class="t" x="699.5" y="762">B34</text></g>
<g id="B260"><rect class="W" x="757.5" y="759.5" width="9" height="9"/><rect class="lb" x="768.5" y="758" width="38" height="14"/><text class="t" x="769.5" y="770">B260</text></g>
<g id="B58"><rect class="W" x="714.5" y="793.5" width="9" height="9"/><rect class="lb" x="725.5" y="792" width="29" height="14"/><text class="t" x="726.5" y="804">B58</text></g>
<g id="B267"><rect class="R" x="832.5" y="805.5" width="9" height="9"/><rect class="lb" x="843.5" y="804" width="38" height="14"/><text class="t" x="844.5" y="816">B267</text></g>
<g id="B123"><rect class="W" x="762.5" y="833.5" width="9" height="9"/><rect class="lb" x="773.5" y="832" width="38" height="14"/><text class="t" x="774.5" y="844">B123</text></g>
<g id="B196"><rect class="W" x="919.5" y="707.5" width="9" height="9"/><rect class="lb" x="930.5" y="706" width="38" height="14"/><text class="t" x="931.5" y="718">B196</text></g>
<g id="B57"><rect class="W" x="511.5" y="435.5" width="9" height="9"/><rect class="lb" x="522.5" y="434" width="29" height="14"/><text class="t" x="523.5" y="446">B57</text></g>
<g id="B3"><rect class="R" x="663.5" y="297.5" width="9" height="9"/><rect class="lb" x="674.5" y="296" width="20" height="14"/><text class="t" x="675.5" y="308">B3</text></g>
<g id="B149"><rect class="W" x="678.5" y="307.5" width="9" height="9"/><rect class="lb" x="689.5" y="306" width="38" height="14"/><text class="t" x="690.5" y="318">B149</text></g>
<g id="B266"><rect class="W" x="641.5" y="313.5" width="9" height="9"/><rect class="lb" x="652.5" y="312" width="38" height="14"/><text class="t" x="653.5" y="324">B266</text></g>
<g id="B195"><rect class="W" x="813.5" y="196.5" width="9" height="9"/><rect class="lb" x="824.5" y="195" width="38" height="14"/><text class="t" x="825.5" y="207">B195</text></g>
<g id="B273"><rect class="W" x="827.5" y="219.5" width="9" height="9"/><rect class="lb" x="838.5" y="218" width="38" height="14"/><text class="t" x="839.5" y="230">B273</text></g>
<g id="B259"><rect class="W" x="879.5" y="303.5" width="9" height="9"/><rect class="lb" x="890.5" y="302" width="38" height="14"/><text class="t" x="891.5" y="314">B259</text></g>
<g id="B264"><rect class="R" x="811.5" y="345.5" width="9" height="9"/><rect class="lb" x="822.5" y="344" width="38" height="14"/><text class="t" x="823.5" y="356">B264</text></g>
<g id="B279"><rect class="K" x="795" y="332" width="10" height="10"/><rect class="lb" x="807" y="331" width="38" height="14"/><text class="t" x="808" y="343">B279</text></g>
<g id="B255"><rect class="R" x="827.5" y="361.5" width="9" height="9"/><rect class="lb" x="838.5" y="360" width="38" height="14"/><text class="t" x="839.5" y="372">B255</text></g>
<g id="A8"><rect class="R" x="871.5" y="432.5" width="9" height="9"/><rect class="lb" x="882.5" y="431" width="20" height="14"/><text class="t" x="883.5" y="443">A8</text></g>
<g id="B239"><rect class="W" x="995.5" y="135.5" width="9" height="9"/><rect class="lb" x="1006.5" y="134" width="38" height="14"/><text class="t" x="1007.5" y="146">B239</text></g>
<g id="B252"><rect class="W" x="1048.5" y="161.5" width="9" height="9"/><rect class="lb" x="1059.5" y="160" width="38" height="14"/><text class="t" x="1060.5" y="172">B252</text></g>
<g id="B115"><rect class="W" x="1116.5" y="142.5" width="9" height="9"/><rect class="lb" x="1127.5" y="141" width="38" height="14"/><text class="t" x="1128.5" y="153">B115</text></g>
<g id="B156"><rect class="W" x="1162.5" y="186.5" width="9" height="9"/><rect class="lb" x="1173.5" y="185" width="38" height="14"/><text class="t" x="1174.5" y="197">B156</text></g>
<g id="B238"><rect class="W" x="1178.5" y="201.5" width="9" height="9"/><rect class="lb" x="1189.5" y="200" width="38" height="14"/><text class="t" x="1190.5" y="212">B238</text></g>
<g id="B97"><rect class="W" x="1253.5" y="194.5" width="9" height="9"/><rect class="lb" x="1264.5" y="193" width="29" height="14"/><text class="t" x="1265.5" y="205">B97</text></g>
<g id="B49"><rect class="W" x="1149.5" y="128.5" width="9" height="9"/><rect class="lb" x="1160.5" y="127" width="29" height="14"/><text class="t" x="1161.5" y="139">B49</text></g>
<g id="B1-x"><rect class="W" x="1165.5" y="114.5" width="9" height="9"/><rect class="lb" x="1176.5" y="113" width="20" height="14"/><text class="t" x="1177.5" y="125">B1</text></g>
<g id="B219"><rect class="R" x="1184.5" y="116.5" width="9" height="9"/><rect class="lb" x="1195.5" y="115" width="38" height="14"/><text class="t" x="1196.5" y="127">B219</text></g>
<g id="B220"><rect class="W" x="1283.5" y="129.5" width="9" height="9"/><rect class="lb" x="1294.5" y="128" width="38" height="14"/><text class="t" x="1295.5" y="140">B220</text></g>
<g id="B19"><rect class="R" x="1211.5" y="19.5" width="9" height="9"/><rect class="lb" x="1222.5" y="18" width="29" height="14"/><text class="t" x="1223.5" y="30">B19</text></g>
<g id="B164"><rect class="W" x="1267.5" y="10.5" width="9" height="9"/><rect class="lb" x="1278.5" y="9" width="38" height="14"/><text class="t" x="1279.5" y="21">B164</text></g>
<g id="B67"><rect class="W" x="1334.5" y="18.5" width="9" height="9"/><rect class="lb" x="1345.5" y="17" width="29" height="14"/><text class="t" x="1346.5" y="29">B67</text></g>
<g id="B82"><rect class="W" x="1374.5" y="28.5" width="9" height="9"/><rect class="lb" x="1385.5" y="27" width="29" height="14"/><text class="t" x="1386.5" y="39">B82</text></g>
<g id="B53"><rect class="W" x="1243.5" y="342.5" width="9" height="9"/><rect class="lb" x="1254.5" y="341" width="29" height="14"/><text class="t" x="1255.5" y="353">B53</text></g>
<g id="B36"><rect class="W" x="1412.5" y="194.5" width="9" height="9"/><rect class="lb" x="1423.5" y="193" width="29" height="14"/><text class="t" x="1424.5" y="205">B36</text></g>
<g id="B104"><rect class="W" x="1437.5" y="208.5" width="9" height="9"/><rect class="lb" x="1448.5" y="207" width="38" height="14"/><text class="t" x="1449.5" y="219">B104</text></g>
<g id="B136"><rect class="W" x="1385.5" y="208.5" width="9" height="9"/><rect class="lb" x="1396.5" y="207" width="38" height="14"/><text class="t" x="1397.5" y="219">B136</text></g>
<g id="B119"><rect class="W" x="1433.5" y="267.5" width="9" height="9"/><rect class="lb" x="1444.5" y="266" width="38" height="14"/><text class="t" x="1445.5" y="278">B119</text></g>
<g id="B235"><rect class="W" x="1462.5" y="257.5" width="9" height="9"/><rect class="lb" x="1473.5" y="256" width="38" height="14"/><text class="t" x="1474.5" y="268">B235</text></g>
<g id="B109"><rect class="W" x="1504.5" y="123.5" width="9" height="9"/><rect class="lb" x="1515.5" y="122" width="38" height="14"/><text class="t" x="1516.5" y="134">B109</text></g>
<g id="B175"><rect class="W" x="1504.5" y="108.5" width="9" height="9"/><rect class="lb" x="1515.5" y="107" width="38" height="14"/><text class="t" x="1516.5" y="119">B175</text></g>
<g id="B111"><rect class="W" x="1572.5" y="179.5" width="9" height="9"/><rect class="lb" x="1583.5" y="178" width="38" height="14"/><text class="t" x="1584.5" y="190">B111</text></g>
<g id="B116"><rect class="W" x="1636.5" y="160.5" width="9" height="9"/><rect class="lb" x="1647.5" y="159" width="38" height="14"/><text class="t" x="1648.5" y="171">B116</text></g>
<g id="B283"><rect class="W" x="1542.5" y="338.5" width="9" height="9"/><rect class="lb" x="1553.5" y="337" width="38" height="14"/><text class="t" x="1554.5" y="349">B283</text></g>
<g id="B272"><rect class="W" x="1624.5" y="243.5" width="9" height="9"/><rect class="lb" x="1635.5" y="242" width="38" height="14"/><text class="t" x="1636.5" y="254">B272</text></g>
<g id="B84"><rect class="W" x="1657.5" y="271.5" width="9" height="9"/><rect class="lb" x="1668.5" y="270" width="29" height="14"/><text class="t" x="1669.5" y="282">B84</text></g>
<g id="B194"><rect class="W" x="1688.5" y="299.5" width="9" height="9"/><rect class="lb" x="1699.5" y="298" width="38" height="14"/><text class="t" x="1700.5" y="310">B194</text></g>
<g id="B230"><rect class="U" x="1577.5" y="395.5" width="9" height="9"/><rect class="lb" x="1588.5" y="394" width="38" height="14"/><text class="t" x="1589.5" y="406">B230</text></g>
<g id="B99"><rect class="W" x="1568.5" y="414.5" width="9" height="9"/><rect class="lb" x="1579.5" y="413" width="29" height="14"/><text class="t" x="1580.5" y="425">B99</text></g>
<g id="B188"><rect class="W" x="1483.5" y="405.5" width="9" height="9"/><rect class="lb" x="1494.5" y="404" width="38" height="14"/><text class="t" x="1495.5" y="416">B188</text></g>
<g id="B86"><rect class="W" x="1493.5" y="434.5" width="9" height="9"/><rect class="lb" x="1504.5" y="433" width="29" height="14"/><text class="t" x="1505.5" y="445">B86</text></g>
<g id="B203"><rect class="W" x="1306.5" y="442.5" width="9" height="9"/><rect class="lb" x="1317.5" y="441" width="38" height="14"/><text class="t" x="1318.5" y="453">B203</text></g>
<g id="B285"><rect class="W" x="1333.5" y="462.5" width="9" height="9"/><rect class="lb" x="1344.5" y="461" width="38" height="14"/><text class="t" x="1345.5" y="473">B285</text></g>
<g id="B233"><rect class="W" x="1292.5" y="495.5" width="9" height="9"/><rect class="lb" x="1303.5" y="494" width="38" height="14"/><text class="t" x="1304.5" y="506">B233</text></g>
<g id="B180"><rect class="K" x="1358" y="492" width="10" height="10"/><rect class="lb" x="1370" y="491" width="38" height="14"/><text class="t" x="1371" y="503">B180</text></g>
<g id="B108"><rect class="W" x="1508.5" y="453.5" width="9" height="9"/><rect class="lb" x="1519.5" y="452" width="38" height="14"/><text class="t" x="1520.5" y="464">B108</text></g>
<g id="B90"><rect class="W" x="1399.5" y="546.5" width="9" height="9"/><rect class="lb" x="1410.5" y="545" width="29" height="14"/><text class="t" x="1411.5" y="557">B90</text></g>
<g id="B281"><rect class="R" x="1657.5" y="447.5" width="9" height="9"/><rect class="lb" x="1668.5" y="446" width="38" height="14"/><text class="t" x="1669.5" y="458">B281</text></g>
<g id="B126"><rect class="W" x="1668.5" y="477.5" width="9" height="9"/><rect class="lb" x="1679.5" y="476" width="38" height="14"/><text class="t" x="1680.5" y="488">B126</text></g>
<g id="B39"><rect class="W" x="1676.5" y="520.5" width="9" height="9"/><rect class="lb" x="1687.5" y="519" width="29" height="14"/><text class="t" x="1688.5" y="531">B39</text></g>
<g id="B240"><rect class="W" x="1797.5" y="359.5" width="9" height="9"/><rect class="lb" x="1808.5" y="358" width="38" height="14"/><text class="t" x="1809.5" y="370">B240</text></g>
<g id="B182"><rect class="W" x="1833.5" y="398.5" width="9" height="9"/><rect class="lb" x="1844.5" y="397" width="38" height="14"/><text class="t" x="1845.5" y="409">B182</text></g>
<g id="B94"><rect class="W" x="1833.5" y="426.5" width="9" height="9"/><rect class="lb" x="1844.5" y="425" width="29" height="14"/><text class="t" x="1845.5" y="437">B94</text></g>
<g id="B129"><rect class="W" x="1833.5" y="479.5" width="9" height="9"/><rect class="lb" x="1844.5" y="478" width="38" height="14"/><text class="t" x="1845.5" y="490">B129</text></g>
<g id="B225"><rect class="W" x="1842.5" y="509.5" width="9" height="9"/><rect class="lb" x="1853.5" y="508" width="38" height="14"/><text class="t" x="1854.5" y="520">B225</text></g>
<g id="B16"><rect class="W" x="1852.5" y="542.5" width="9" height="9"/><rect class="lb" x="1863.5" y="541" width="29" height="14"/><text class="t" x="1864.5" y="553">B16</text></g>
<g id="B98"><rect class="W" x="1820.5" y="555.5" width="9" height="9"/><rect class="lb" x="1831.5" y="554" width="29" height="14"/><text class="t" x="1832.5" y="566">B98</text></g>
<g id="B17"><rect class="W" x="1562.5" y="556.5" width="9" height="9"/><rect class="lb" x="1573.5" y="555" width="29" height="14"/><text class="t" x="1574.5" y="567">B17</text></g>
<g id="B224"><rect class="W" x="1385.5" y="603.5" width="9" height="9"/><rect class="lb" x="1396.5" y="602" width="38" height="14"/><text class="t" x="1397.5" y="614">B224</text></g>
<g id="B15"><rect class="W" x="1412.5" y="632.5" width="9" height="9"/><rect class="lb" x="1423.5" y="631" width="29" height="14"/><text class="t" x="1424.5" y="643">B15</text></g>
<g id="B197"><rect class="W" x="1369.5" y="647.5" width="9" height="9"/><rect class="lb" x="1380.5" y="646" width="38" height="14"/><text class="t" x="1381.5" y="658">B197</text></g>
<g id="B243"><rect class="W" x="1353.5" y="672.5" width="9" height="9"/><rect class="lb" x="1364.5" y="671" width="38" height="14"/><text class="t" x="1365.5" y="683">B243</text></g>
<g id="B26"><rect class="R" x="1422.5" y="668.5" width="9" height="9"/><rect class="lb" x="1433.5" y="667" width="29" height="14"/><text class="t" x="1434.5" y="679">B26</text></g>
<g id="B125"><rect class="R" x="1572.5" y="608.5" width="9" height="9"/><rect class="lb" x="1583.5" y="607" width="38" height="14"/><text class="t" x="1584.5" y="619">B125</text></g>
<g id="B74"><rect class="R" x="1555.5" y="626.5" width="9" height="9"/><rect class="lb" x="1566.5" y="625" width="29" height="14"/><text class="t" x="1567.5" y="637">B74</text></g>
<g id="A60"><rect class="R" x="1544.5" y="643.5" width="9" height="9"/><rect class="lb" x="1555.5" y="642" width="29" height="14"/><text class="t" x="1556.5" y="654">A60</text></g>
<g id="B107"><rect class="W" x="1738.5" y="691.5" width="9" height="9"/><rect class="lb" x="1749.5" y="690" width="38" height="14"/><text class="t" x="1750.5" y="702">B107</text></g>
<g id="B223"><rect class="W" x="1708.5" y="680.5" width="9" height="9"/><rect class="lb" x="1719.5" y="679" width="38" height="14"/><text class="t" x="1720.5" y="691">B223</text></g>
<g id="B71"><rect class="R" x="1681.5" y="703.5" width="9" height="9"/><rect class="lb" x="1692.5" y="702" width="29" height="14"/><text class="t" x="1693.5" y="714">B71</text></g>
<g id="B174"><rect class="R" x="1671.5" y="723.5" width="9" height="9"/><rect class="lb" x="1682.5" y="722" width="38" height="14"/><text class="t" x="1683.5" y="734">B174</text></g>
<g id="B35"><rect class="R" x="1106.5" y="378.5" width="9" height="9"/><rect class="lb" x="1117.5" y="377" width="29" height="14"/><text class="t" x="1118.5" y="389">B35</text></g>
<g id="B79"><rect class="W" x="1149.5" y="437.5" width="9" height="9"/><rect class="lb" x="1160.5" y="436" width="29" height="14"/><text class="t" x="1161.5" y="448">B79</text></g>
<g id="B12"><rect class="R" x="1239.5" y="406.5" width="9" height="9"/><rect class="lb" x="1250.5" y="405" width="29" height="14"/><text class="t" x="1251.5" y="417">B12</text></g>
<g id="A89"><rect class="R" x="1087.5" y="508.5" width="9" height="9"/><rect class="lb" x="1098.5" y="507" width="29" height="14"/><text class="t" x="1099.5" y="519">A89</text></g>
<g id="B88"><rect class="M" x="987.5" y="545.5" width="9" height="9"/><rect class="lb" x="998.5" y="544" width="29" height="14"/><text class="t" x="999.5" y="556">B88</text></g>
<g id="B216"><rect class="R" x="1069.5" y="553.5" width="9" height="9"/><rect class="lb" x="1080.5" y="552" width="38" height="14"/><text class="t" x="1081.5" y="564">B216</text></g>
<g id="B263"><rect class="K" x="952" y="578" width="10" height="10"/><rect class="lb" x="964" y="577" width="38" height="14"/><text class="t" x="965" y="589">B263</text></g>
<g id="B87"><rect class="W" x="946.5" y="629.5" width="9" height="9"/><rect class="lb" x="957.5" y="628" width="29" height="14"/><text class="t" x="958.5" y="640">B87</text></g>
<g id="B-z"><rect class="R" x="1061.5" y="642.5" width="9" height="9"/></g>
<g id="B155"><rect class="W" x="1231.5" y="695.5" width="9" height="9"/><rect class="lb" x="1242.5" y="694" width="38" height="14"/><text class="t" x="1243.5" y="706">B155</text></g>
<g id="A81"><rect class="R" x="1253.5" y="717.5" width="9" height="9"/><rect class="lb" x="1264.5" y="716" width="29" height="14"/><text class="t" x="1265.5" y="728">A81</text></g>
<g id="B38"><rect class="R" x="1293.5" y="705.5" width="9" height="9"/><rect class="lb" x="1304.5" y="704" width="29" height="14"/><text class="t" x="1305.5" y="716">B38</text></g>
<g id="B40"><rect class="W" x="1193.5" y="742.5" width="9" height="9"/><rect class="lb" x="1204.5" y="741" width="29" height="14"/><text class="t" x="1205.5" y="753">B40</text></g>
<g id="B47"><rect class="W" x="1109.5" y="750.5" width="9" height="9"/><rect class="lb" x="1120.5" y="749" width="29" height="14"/><text class="t" x="1121.5" y="761">B47</text></g>
<g id="B-q"><rect class="R" x="954.5" y="750.5" width="9" height="9"/><rect class="lb" x="965.5" y="749" width="11" height="14"/><text class="t" x="966.5" y="761">B</text></g>
<g id="B271"><rect class="R" x="968.5" y="754.5" width="9" height="9"/><rect class="lb" x="979.5" y="753" width="38" height="14"/><text class="t" x="980.5" y="765">B271</text></g>
<g id="A82"><rect class="R" x="1358.5" y="764.5" width="9" height="9"/><rect class="lb" x="1369.5" y="763" width="29" height="14"/><text class="t" x="1370.5" y="775">A82</text></g>
<g id="B160"><rect class="W" x="1436.5" y="764.5" width="9" height="9"/><rect class="lb" x="1447.5" y="763" width="38" height="14"/><text class="t" x="1448.5" y="775">B160</text></g>
<g id="A77"><rect class="R" x="1047.5" y="777.5" width="9" height="9"/><rect class="lb" x="1058.5" y="776" width="29" height="14"/><text class="t" x="1059.5" y="788">A77</text></g>
<g id="B148"><rect class="W" x="1038.5" y="787.5" width="9" height="9"/><rect class="lb" x="1049.5" y="786" width="38" height="14"/><text class="t" x="1050.5" y="798">B148</text></g>
<g id="B9"><rect class="W" x="959.5" y="773.5" width="9" height="9"/><rect class="lb" x="970.5" y="772" width="20" height="14"/><text class="t" x="971.5" y="784">B9</text></g>
<g id="B137"><rect class="R" x="995.5" y="802.5" width="9" height="9"/><rect class="lb" x="1006.5" y="801" width="38" height="14"/><text class="t" x="1007.5" y="813">B137</text></g>
<g id="B23"><rect class="W" x="1231.5" y="825.5" width="9" height="9"/><rect class="lb" x="1242.5" y="824" width="29" height="14"/><text class="t" x="1243.5" y="836">B23</text></g>
<g id="B258"><rect class="W" x="1211.5" y="812.5" width="9" height="9"/><rect class="lb" x="1222.5" y="811" width="38" height="14"/><text class="t" x="1223.5" y="823">B258</text></g>
<g id="B135"><rect class="W" x="1412.5" y="817.5" width="9" height="9"/><rect class="lb" x="1423.5" y="816" width="38" height="14"/><text class="t" x="1424.5" y="828">B135</text></g>
<g id="B177"><rect class="W" x="1433.5" y="807.5" width="9" height="9"/><rect class="lb" x="1444.5" y="806" width="38" height="14"/><text class="t" x="1445.5" y="818">B177</text></g>
<g id="B5"><rect class="W" x="1379.5" y="827.5" width="9" height="9"/><rect class="lb" x="1390.5" y="826" width="20" height="14"/><text class="t" x="1391.5" y="838">B5</text></g>
<g id="B211"><rect class="W" x="1385.5" y="833.5" width="9" height="9"/><rect class="lb" x="1396.5" y="832" width="38" height="14"/><text class="t" x="1397.5" y="844">B211</text></g>
<g id="B168"><rect class="W" x="1157.5" y="847.5" width="9" height="9"/><rect class="lb" x="1168.5" y="846" width="38" height="14"/><text class="t" x="1169.5" y="858">B168</text></g>
<g id="B253"><rect class="W" x="1333.5" y="853.5" width="9" height="9"/><rect class="lb" x="1344.5" y="852" width="38" height="14"/><text class="t" x="1345.5" y="864">B253</text></g>
<g id="B77"><rect class="G" x="1360.5" y="868.5" width="9" height="9"/><rect class="lb" x="1371.5" y="867" width="29" height="14"/><text class="t" x="1372.5" y="879">B77</text></g>
<g id="B278"><rect class="W" x="1267.5" y="868.5" width="9" height="9"/><rect class="lb" x="1278.5" y="867" width="38" height="14"/><text class="t" x="1279.5" y="879">B278</text></g>
<g id="B141"><rect class="W" x="1316.5" y="883.5" width="9" height="9"/><rect class="lb" x="1327.5" y="882" width="38" height="14"/><text class="t" x="1328.5" y="894">B141</text></g>
<g id="B166"><rect class="R" x="1454.5" y="883.5" width="9" height="9"/><rect class="lb" x="1465.5" y="882" width="38" height="14"/><text class="t" x="1466.5" y="894">B166</text></g>
<g id="B184"><rect class="R" x="937.5" y="868.5" width="9" height="9"/><rect class="lb" x="948.5" y="867" width="38" height="14"/><text class="t" x="949.5" y="879">B184</text></g>
<g id="B226"><rect class="W" x="1203.5" y="891.5" width="9" height="9"/><rect class="lb" x="1214.5" y="890" width="38" height="14"/><text class="t" x="1215.5" y="902">B226</text></g>
<g id="B27"><rect class="R" x="1015.5" y="894.5" width="9" height="9"/><rect class="lb" x="1026.5" y="893" width="29" height="14"/><text class="t" x="1027.5" y="905">B27</text></g>
<g id="B257"><rect class="W" x="905.5" y="918.5" width="9" height="9"/><rect class="lb" x="916.5" y="917" width="38" height="14"/><text class="t" x="917.5" y="929">B257</text></g>
<g id="B127"><rect class="W" x="1143.5" y="913.5" width="9" height="9"/><rect class="lb" x="1154.5" y="912" width="38" height="14"/><text class="t" x="1155.5" y="924">B127</text></g>
<g id="B246"><rect class="R" x="1092.5" y="936.5" width="9" height="9"/><rect class="lb" x="1103.5" y="935" width="38" height="14"/><text class="t" x="1104.5" y="947">B246</text></g>
<g id="B186"><rect class="W" x="979.5" y="936.5" width="9" height="9"/><rect class="lb" x="990.5" y="935" width="38" height="14"/><text class="t" x="991.5" y="947">B186</text></g>
<g id="B250"><rect class="W" x="1190.5" y="997.5" width="9" height="9"/><rect class="lb" x="1201.5" y="996" width="38" height="14"/><text class="t" x="1202.5" y="1008">B250</text></g>
<g id="B206"><rect class="W" x="1100.5" y="1015.5" width="9" height="9"/><rect class="lb" x="1111.5" y="1014" width="38" height="14"/><text class="t" x="1112.5" y="1026">B206</text></g>
</g>

<g id="legend">
<rect x="52" y="959" width="561" height="90" fill="#fff" stroke="#000" stroke-width="2.5"/>
<line x1="282" y1="959" x2="282" y2="1029" stroke="#000" stroke-width="2.5"/>
<line x1="52" y1="999" x2="613" y2="999" stroke="#000" stroke-width="2.5"/>
<text class="lg" x="164" y="990">Red</text>
<text class="lg" x="393" y="990">Uni-research</text>
<text class="lg" x="164" y="1029">Blue</text>
<text class="lg" x="393" y="1029">NGO</text>
</g>
</svg>
